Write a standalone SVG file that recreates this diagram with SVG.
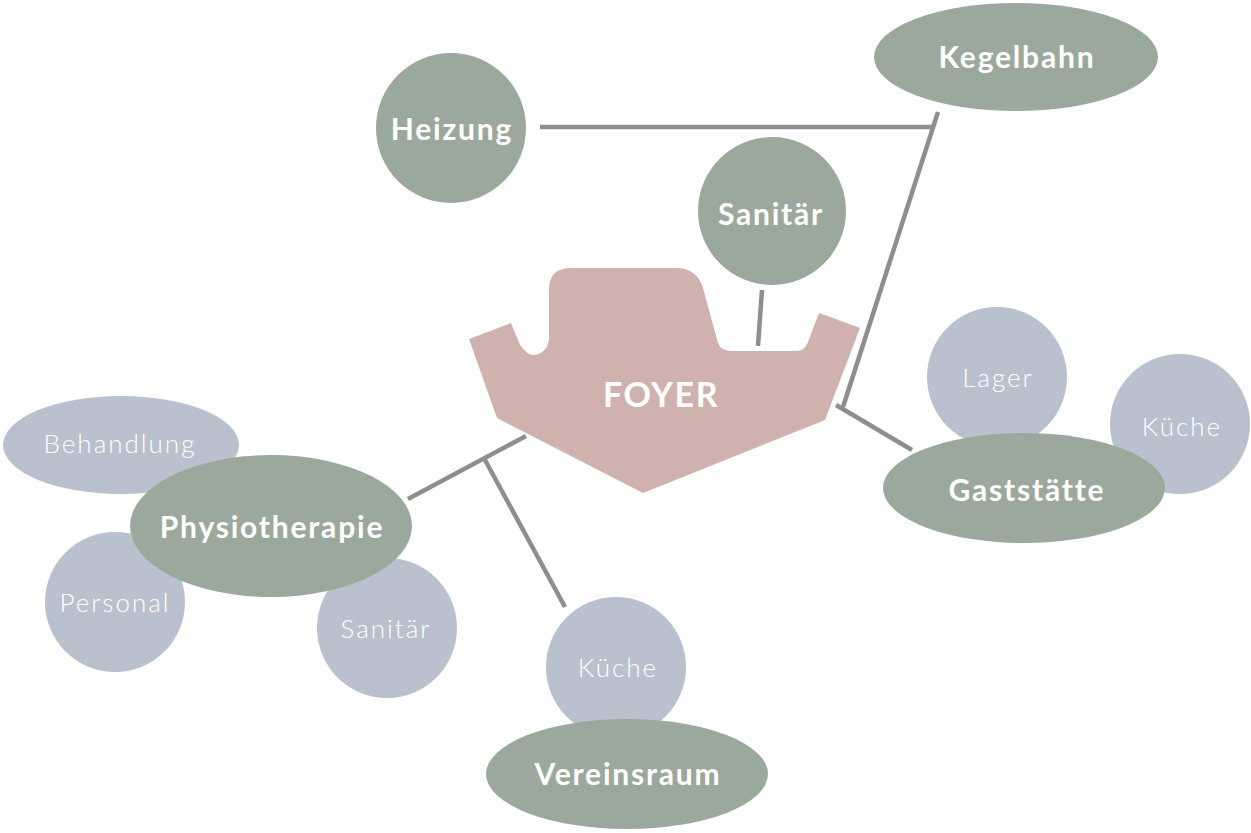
<svg xmlns="http://www.w3.org/2000/svg" width="1251" height="833" viewBox="0 0 1251 833">
<style>
.main{fill:#9BA99D}
.sub{fill:#B9C1CE}
.foyer{fill:#CFB2AE}
.tb{font-family:"Lato","Liberation Sans",sans-serif;font-weight:700;font-size:30px;letter-spacing:1.8px;fill:#fff;text-anchor:middle;dominant-baseline:central}
.tl{font-family:"Lato","Liberation Sans",sans-serif;font-weight:300;font-size:26px;letter-spacing:2px;fill:#fff;text-anchor:middle;dominant-baseline:central}
.conn line{stroke:#8E8E8E;stroke-width:4.5;fill:none}
</style>
<rect width="1251" height="833" fill="#fff"/>
<g id="foyer">
<path class="foyer" d="M469,339 L511,323 L520,345 Q533,364 547,347 L549,340 L549,290 Q549,268 571,268 L676,268 Q697,268 703,288 L718,343 Q721,351 732,351 L796,351 Q805,351 808,342 L819,313 L860,328 L825,420 L643,493 L497,418 Z"/>
<text class="tb" x="661" y="393" style="font-size:34px;letter-spacing:1.5px">FOYER</text>
</g>
<g class="conn">
<line x1="540" y1="127" x2="935" y2="127"/>
<line x1="938" y1="112" x2="843" y2="407"/>
<line x1="836" y1="405" x2="912" y2="450"/>
<line x1="762" y1="290" x2="758" y2="346"/>
<line x1="526" y1="436" x2="408" y2="499"/>
<line x1="485" y1="460" x2="565" y2="607"/>
</g>
<g id="heizung"><circle class="main" cx="451" cy="128" r="75"/><text class="tb" x="452" y="128">Heizung</text></g>
<g id="kegelbahn"><ellipse class="main" cx="1016" cy="57" rx="142" ry="54"/><text class="tb" x="1017" y="56">Kegelbahn</text></g>
<g id="sanitaer-top"><circle class="main" cx="772" cy="211" r="74"/><text class="tb" x="771" y="213">Sanitär</text></g>
<g id="lager"><circle class="sub" cx="997" cy="377" r="70"/><text class="tl" x="998" y="377">Lager</text></g>
<g id="kueche-right"><circle class="sub" cx="1180" cy="424" r="70"/><text class="tl" x="1182" y="426">Küche</text></g>
<g id="gaststaette"><ellipse class="main" cx="1024" cy="488" rx="141" ry="55"/><text class="tb" x="1027" y="489">Gaststätte</text></g>
<g id="behandlung"><ellipse class="sub" cx="121" cy="445" rx="118" ry="49"/><text class="tl" x="120" y="443">Behandlung</text></g>
<g id="personal"><circle class="sub" cx="115" cy="602" r="70"/><text class="tl" x="115" y="602">Personal</text></g>
<g id="sanitaer-sub"><circle class="sub" cx="387" cy="628" r="70"/><text class="tl" x="386" y="628">Sanitär</text></g>
<g id="physiotherapie"><ellipse class="main" cx="271" cy="526" rx="141" ry="71"/><text class="tb" x="272" y="526">Physiotherapie</text></g>
<g id="kueche-bottom"><circle class="sub" cx="616" cy="667" r="70"/><text class="tl" x="618" y="667">Küche</text></g>
<g id="vereinsraum"><ellipse class="main" cx="627" cy="774" rx="141" ry="55"/><text class="tb" x="628" y="773">Vereinsraum</text></g>
</svg>
